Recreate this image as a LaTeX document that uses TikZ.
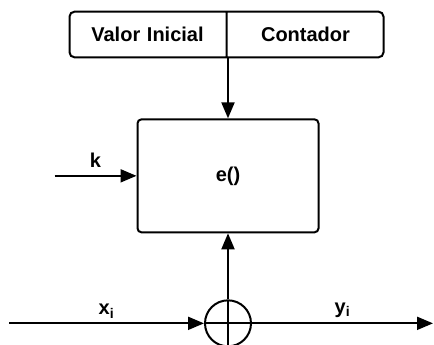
\documentclass[tikz,border=0pt]{standalone}
\usepackage{fontspec}
\setmainfont{Liberation Sans}
\usetikzlibrary{arrows.meta,positioning,shapes.multipart}

\begin{document}
\begin{tikzpicture}[x=1pt,y=1pt,line width=2pt,
  every node/.style={font=\fontsize{20}{24}\selectfont\bfseries},
  flow/.style={-{Triangle[length=16pt,width=13pt]}}]
\useasboundingbox (0,0) rectangle (434,345);
\node[draw,rounded corners=5pt,rectangle split,rectangle split horizontal,
  rectangle split parts=2,text width=156pt,inner xsep=0pt,inner ysep=15.5pt,
  text height=14pt,text depth=0pt,align=center]
  (state) at (226.5,310.5) {Valor Inicial\nodepart{two}Contador};
\node[draw,rounded corners=4pt,minimum width=181pt,minimum height=113pt,
  below=60pt of state,xshift=1.5pt] (enc) {e()};
\node[draw,circle,minimum size=46pt,inner sep=0pt,below=66pt of enc,
  path picture={\draw (path picture bounding box.north) -- (path picture bounding box.south)
    (path picture bounding box.west) -- (path picture bounding box.east);}]
  (xor) {};
\coordinate[left=195pt of xor] (xin);
\coordinate[right=181pt of xor] (yout);
\coordinate[left=82pt of enc] (kin);
\draw[flow] (enc |- state.south) -- (enc);
\draw[flow] (kin) -- node[above=4pt] {k} (enc);
\draw[flow] (xor) -- (enc);
\draw[flow] (xin) -- node[above=1pt] {x\textsubscript{i}} (xor);
\draw[flow] (xor) -- node[above=1pt] {y\textsubscript{i}} (yout);
\end{tikzpicture}
\end{document}
